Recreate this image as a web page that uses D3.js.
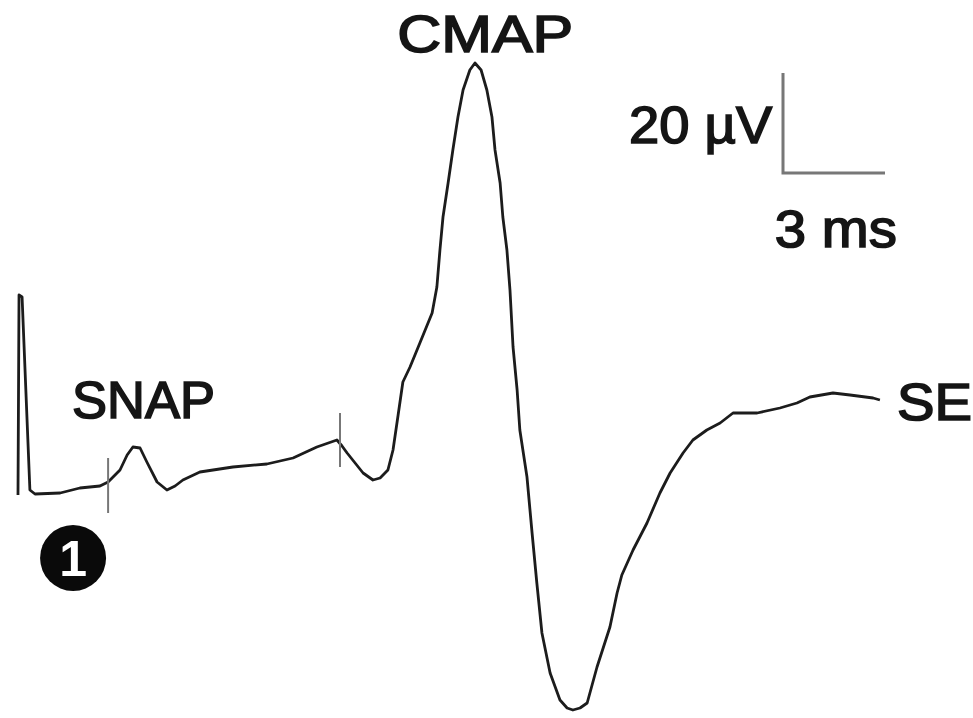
<!DOCTYPE html>
<html lang="en">
<head>
<meta charset="UTF-8">
<title>SNAP and CMAP recording</title>
<script src="https://d3js.org/d3.v7.min.js"></script>
<style>
    body { margin: 0; background: #fff; }
    svg { display: block; font-family: "Liberation Sans", Arial, sans-serif; }
</style>
</head>
<body>
<svg id="chart" width="973" height="718"></svg>
<script>
// trace, time in ms and amplitude in µV
const timeMs = [0, 0.03, 0.12, 0.35, 0.5, 1.24, 1.82, 2.41, 2.65, 3.0, 3.21, 3.38, 3.59, 3.79, 4.09, 4.38,
    4.62, 4.85, 5.35, 6.32, 7.32, 8.09, 8.79, 9.38, 9.53, 9.68, 10.15, 10.44, 10.65, 10.88, 11.03, 11.18,
    11.32, 11.53, 11.82, 12.18, 12.32, 12.41, 12.5, 12.65, 12.79, 12.94, 13.09, 13.29, 13.44, 13.62, 13.79,
    13.94, 14.03, 14.18, 14.26, 14.38, 14.47, 14.56, 14.68, 14.76, 14.97, 15.12, 15.26, 15.41, 15.65, 15.94,
    16.15, 16.32, 16.53, 16.74, 17.03, 17.41, 17.62, 17.76, 18.09, 18.5, 18.88, 19.18, 19.56, 19.85, 20.26,
    20.65, 21.03, 21.74, 22.41, 22.91, 23.29, 23.97, 24.47, 25.15, 25.35];
const amplitudeUv = [-0.4, 39.6, 39.2, 0.6, -0.2, 0, 1, 1.4, 2.2, 4.6, 7.6, 9.2, 9, 6.2, 2.2, 0.6,
    1.4, 2.6, 4.2, 5.2, 5.8, 7, 9.2, 10.6, 9.4, 8, 4, 2.6, 3, 4.6, 8.6, 15.6,
    22.2, 25.2, 30, 36, 41.2, 48.6, 55.2, 62, 68.6, 75.2, 80.6, 84.6, 86, 84.6, 80.6,
    75.2, 68.6, 62, 55.2, 48.6, 40.6, 29.2, 20.6, 12.6, 3.2, -8, -18, -28, -36, -41.4,
    -43, -43.4, -43, -42, -34.8, -26.8, -20, -16.4, -11.4, -6, 0, 4, 8, 10.6, 12.6,
    14, 16, 16, 17, 18, 19.2, 20, 19.6, 19, 18.6];

// small vertical marks crossing the trace
const markTimes = [2.65, 9.47];
const markTops = [7, 16];
const markBottoms = [-4, 5.2];

// calibration bar
const barTime = 22.5, barMs = 3;
const barBase = 64, barUv = 20;

const labels = [
    { text: "CMAP", t: 13.74, v: 88.2, anchor: "middle", len: 176 },
    { text: "SNAP", t: 1.59, v: 15, anchor: "start", len: 143 },
    { text: "SE", t: 25.85, v: 14.6, anchor: "start", len: 75 },
    { text: "20 µV", t: 22.18, v: 70, anchor: "end", len: 143 },
    { text: "3 ms", t: 22.26, v: 49.2, anchor: "start", len: 122 }
];
const badge = { text: "1", t: 1.62, v: -13 };

const width = 973, height = 718;

const x = d3.scaleLinear().domain([0, 28]).range([18, 970]);
const y = d3.scaleLinear().domain([-45, 98.6]).range([height, 0]);

const svg = d3.select("#chart");

const points = timeMs.map((t, i) => [t, amplitudeUv[i]]);

svg.append("path")
    .datum(points)
    .attr("fill", "none")
    .attr("stroke", "#1c1c1c")
    .attr("stroke-width", 2.8)
    .attr("stroke-linejoin", "round")
    .attr("d", d3.line().x(d => x(d[0])).y(d => y(d[1])));

svg.selectAll(".mark")
    .data(markTimes)
    .enter()
    .append("line")
    .attr("class", "mark")
    .attr("x1", d => x(d)).attr("x2", d => x(d))
    .attr("y1", (d, i) => y(markTops[i]))
    .attr("y2", (d, i) => y(markBottoms[i]))
    .attr("stroke", "#777")
    .attr("stroke-width", 2);

// calibration bar
svg.append("path")
    .attr("fill", "none")
    .attr("stroke", "#777")
    .attr("stroke-width", 3)
    .attr("d", `M${x(barTime)},${y(barBase + barUv)}V${y(barBase)}H${x(barTime + barMs)}`);

svg.selectAll(".label")
    .data(labels)
    .enter()
    .append("text")
    .attr("class", "label")
    .attr("x", d => x(d.t))
    .attr("y", d => y(d.v))
    .attr("text-anchor", d => d.anchor)
    .attr("textLength", d => d.len)
    .attr("lengthAdjust", "spacingAndGlyphs")
    .attr("font-size", 51)
    .attr("fill", "#151515")
    .attr("stroke", "#151515")
    .attr("stroke-width", 1.6)
    .text(d => d.text);

// numbered badge
svg.append("circle")
    .attr("cx", x(badge.t))
    .attr("cy", y(badge.v))
    .attr("r", 33)
    .attr("fill", "#0a0a0a");

svg.append("text")
    .attr("x", x(badge.t))
    .attr("y", y(badge.v) + 18)
    .attr("text-anchor", "middle")
    .attr("font-size", 50)
    .attr("font-weight", "bold")
    .attr("fill", "#fff")
    .text(badge.text);
</script>
</body>
</html>
